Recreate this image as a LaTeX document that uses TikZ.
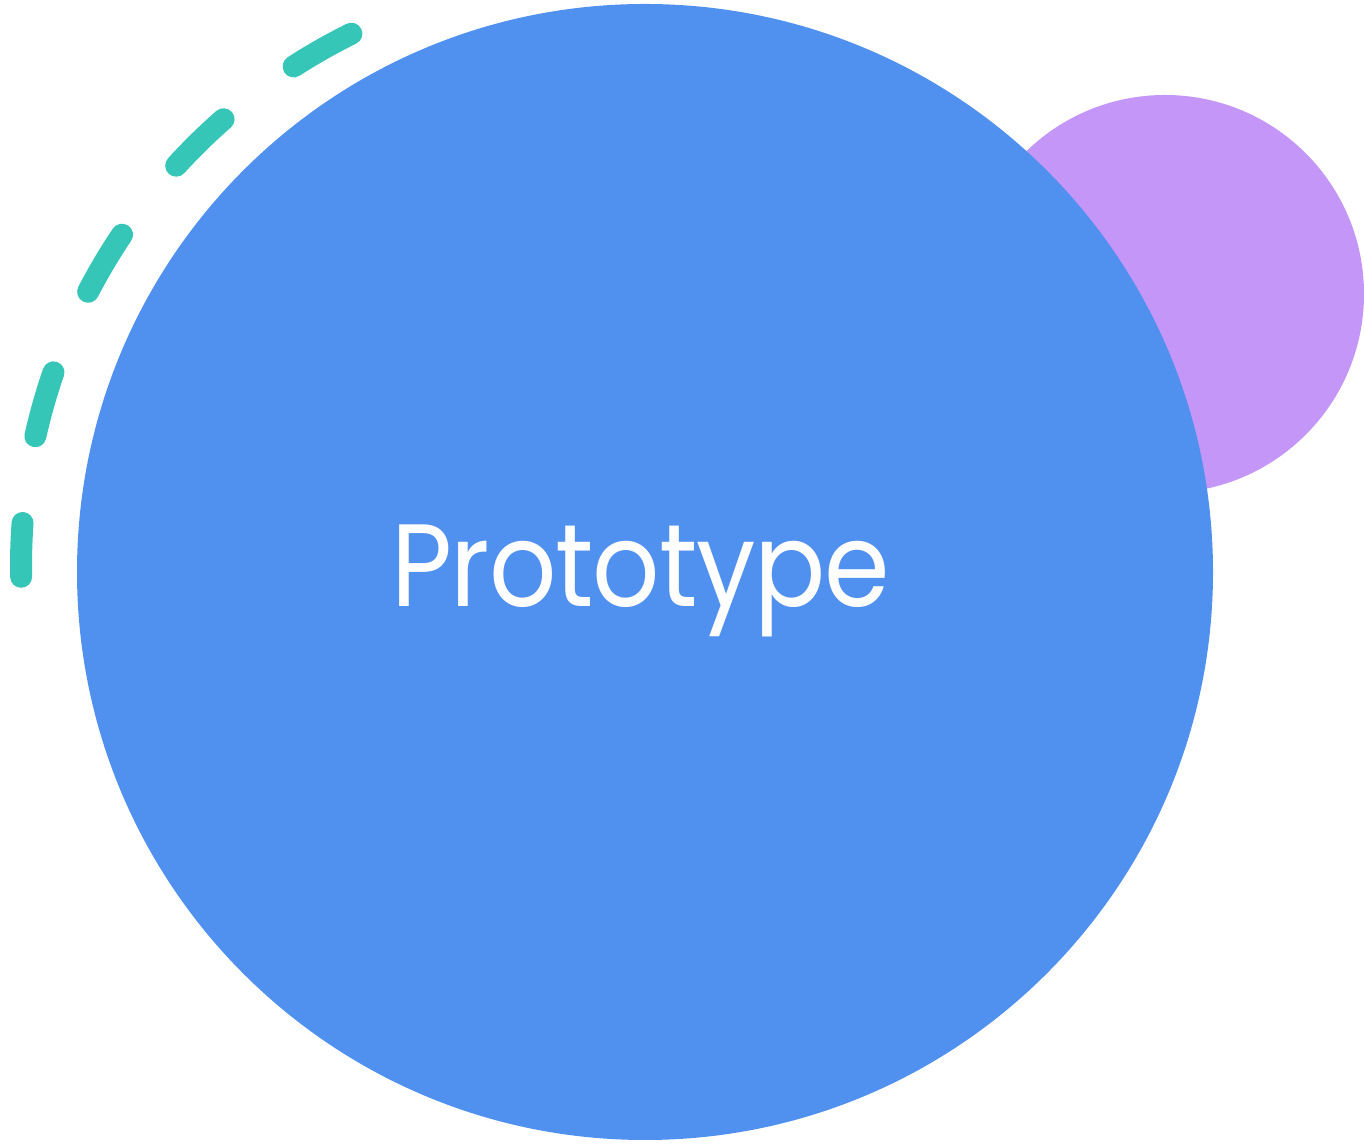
\documentclass[tikz,border=0pt]{standalone}
\usepackage{fontspec}
\setmainfont{Poppins}[FakeStretch=0.9,LetterSpace=-1]
\definecolor{bigblue}{HTML}{5090EF}
\definecolor{lilac}{HTML}{C396F7}
\definecolor{teal}{HTML}{36C6B8}
\begin{document}
\begin{tikzpicture}[x=0.5pt,y=0.5pt,
  disc/.style={fill=#1,draw=none},
  dashring/.style={draw=teal,line width=11pt,line cap=round,
    dash pattern=on 33.2pt off 43.9pt},
  title/.style={text=white,font=\fontsize{58.6}{60}\selectfont,inner sep=0pt,anchor=base}]
\useasboundingbox (0,0) rectangle (1364,1144);
\coordinate (pc) at (1165,850);
\coordinate (bc) at (645,572);
\coordinate (dc) at (615,578);
\fill[disc=lilac] (pc) circle[radius=199];
\fill[disc=bigblue] (bc) circle[radius=568];
\draw[dashring] ([shift={(116.35:594)}]dc) arc[start angle=116.35,end angle=181.04,radius=594];
\node[title] (t) at (640.5,537.3) {Prototype};
\end{tikzpicture}
\end{document}
